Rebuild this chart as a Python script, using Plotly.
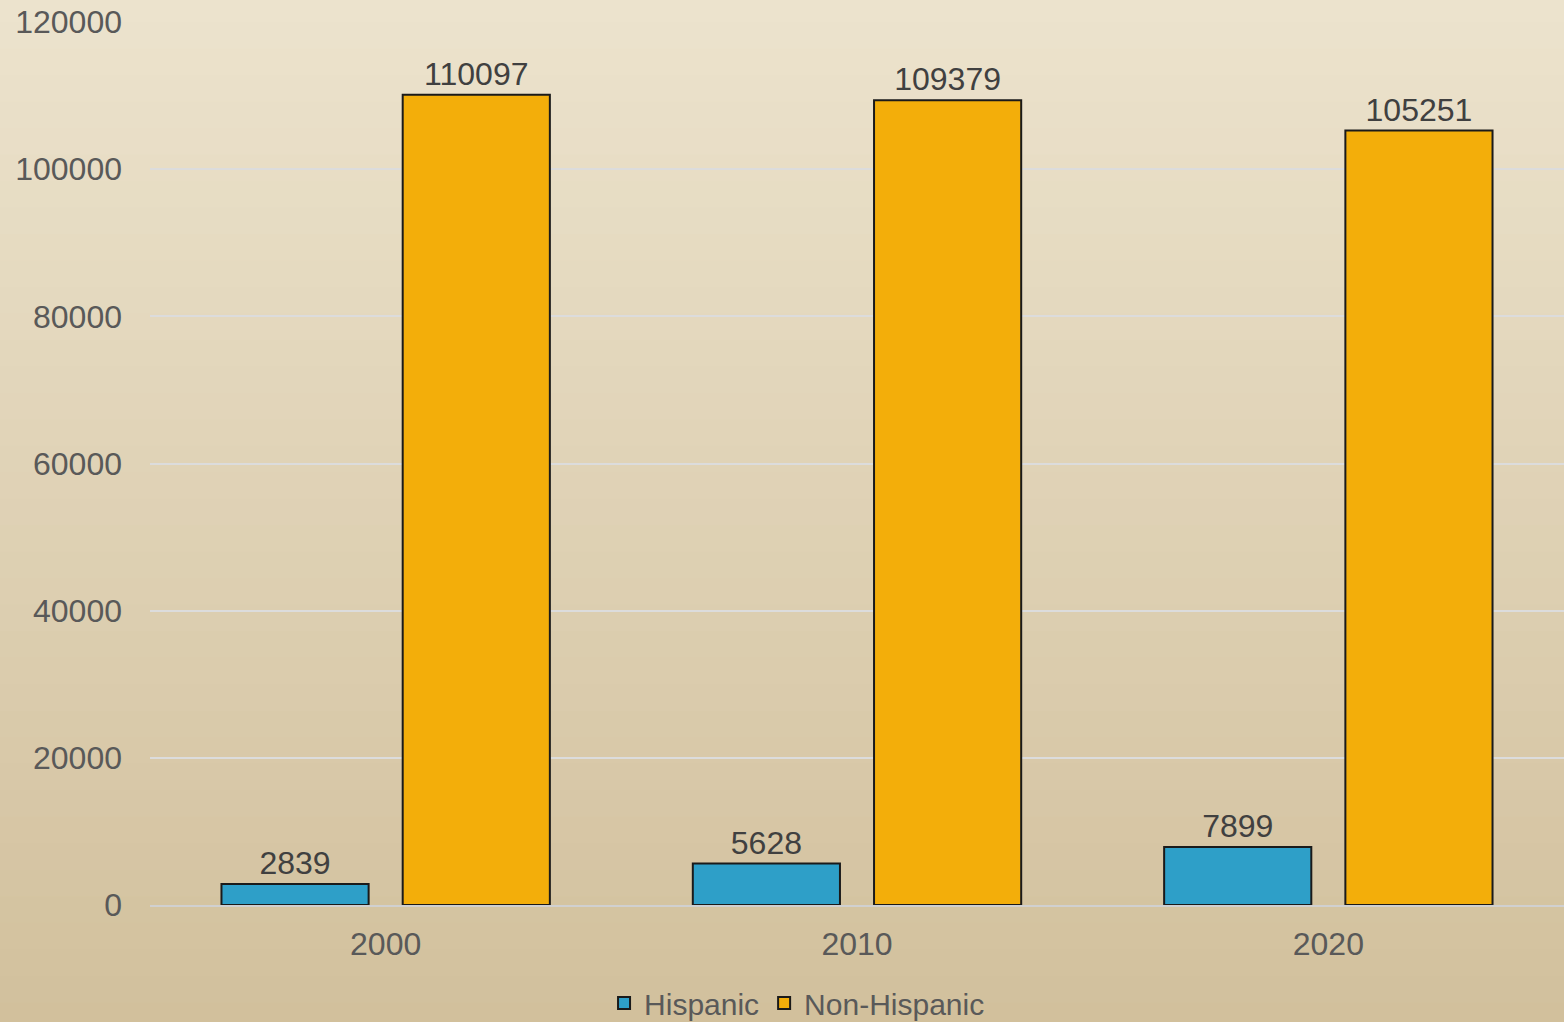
import plotly.graph_objects as go

years = ["2000", "2010", "2020"]
hispanic = [2839, 5628, 7899]
non_hispanic = [110097, 109379, 105251]
y_ticks = [0, 20000, 40000, 60000, 80000, 100000, 120000]

font_family = "Liberation Sans, Arial, sans-serif"
num_size = 32

fig = go.Figure()
fig.add_trace(go.Bar(
    name="Hispanic", x=years, y=hispanic,
    marker=dict(color="#2e9fc8", line=dict(color="#1a1a1a", width=2)),
    text=[str(v) for v in hispanic], textposition="outside",
    textfont=dict(size=num_size, color="#404040", family=font_family),
    cliponaxis=False,
))
fig.add_trace(go.Bar(
    name="Non-Hispanic", x=years, y=non_hispanic,
    marker=dict(color="#f3ae0a", line=dict(color="#1a1a1a", width=2)),
    text=[str(v) for v in non_hispanic], textposition="outside",
    textfont=dict(size=num_size, color="#404040", family=font_family),
    cliponaxis=False,
))

# soft vertical gradient background (paper)
top = (0xec, 0xe3, 0xcd)
bot = (0xd1, 0xbf, 0x9b)
n = 40
shapes = []
for i in range(n):
    t = i / (n - 1)
    c = tuple(round(top[k] + (bot[k] - top[k]) * t) for k in range(3))
    y1 = 1.03 - i * (1.2 / n)
    y0 = y1 - 1.2 / n - 0.002
    shapes.append(dict(type="rect", xref="paper", yref="paper",
                       x0=-0.2, x1=1.05, y0=y0, y1=y1,
                       fillcolor="rgb(%d,%d,%d)" % c, line=dict(width=0), layer="below"))

fig.update_layout(
    width=1564, height=1022,
    margin=dict(l=150, r=0, t=22, b=117, autoexpand=False),
    paper_bgcolor="#dfd2b4",
    plot_bgcolor="rgba(0,0,0,0)",
    barmode="group",
    bargap=0.231,
    bargroupgap=0.188,
    shapes=shapes,
    showlegend=True,
    legend=dict(orientation="h", x=0.4576, xanchor="center", y=-0.111, yanchor="middle",
                font=dict(size=30, color="#595959", family=font_family),
                bgcolor="rgba(0,0,0,0)", itemwidth=30, traceorder="normal"),
    font=dict(family=font_family, color="#595959"),
    yaxis=dict(range=[0, 120000], tickvals=y_ticks, ticktext=[str(v) for v in y_ticks],
               showgrid=True, gridcolor="#dcdcdc", gridwidth=2, zeroline=False,
               tickfont=dict(size=num_size, color="#595959"), ticks="", ticklen=0,
               ticklabelstandoff=27, showline=False),
    xaxis=dict(showgrid=False, showline=True, linecolor="#d0d0d0", linewidth=2,
               tickfont=dict(size=num_size, color="#595959"), ticks="",
               ticklabelstandoff=10),
)

fig.write_html("out.html", post_script="document.body.style.margin='0';",
               config={"displayModeBar": False})
